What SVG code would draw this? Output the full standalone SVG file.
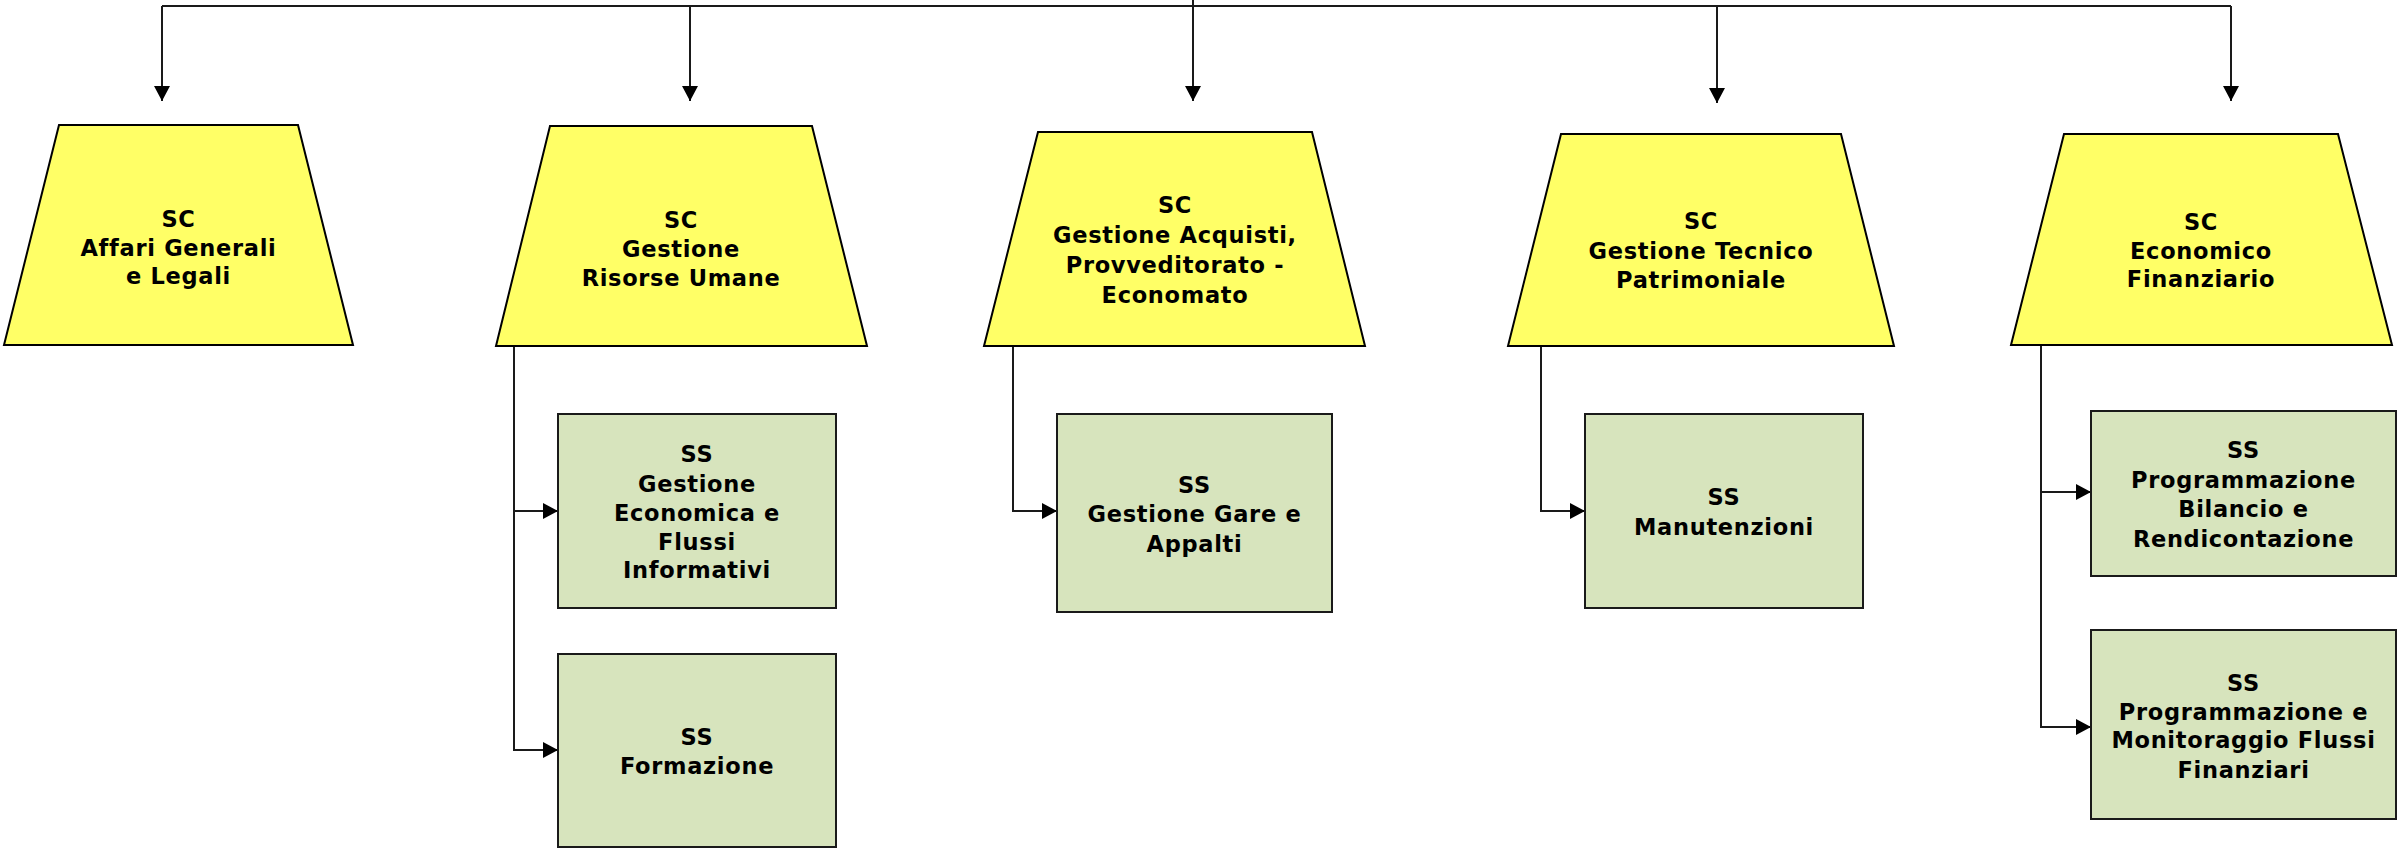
<svg xmlns="http://www.w3.org/2000/svg" width="2399" height="851" viewBox="0 0 2399 851">
<style>
.sc{fill:#FFFF66;stroke:#000;stroke-width:2}
.ss{fill:#D7E4BD;stroke:#1a1a1a;stroke-width:2}
.c{fill:none;stroke:#1a1a1a;stroke-width:2}
text{font-family:"DejaVu Sans","Verdana",sans-serif;font-weight:bold;font-size:22.5px;letter-spacing:0.7px;fill:#000;text-anchor:middle}
</style>
<defs>
<marker id="ad" markerUnits="userSpaceOnUse" markerWidth="16" markerHeight="16" viewBox="0 0 16 16" refX="15" refY="8" orient="auto">
<path d="M0,0 L15,8 L0,16 Z" fill="#000"/>
</marker>
</defs>
<g id="connectors">
<path class="c" d="M1193,0 V6"/>
<path class="c" d="M162,6 H2231"/>
<path class="c" d="M162,6 V101" marker-end="url(#ad)"/>
<path class="c" d="M690,6 V101" marker-end="url(#ad)"/>
<path class="c" d="M1193,6 V101" marker-end="url(#ad)"/>
<path class="c" d="M1717,6 V103" marker-end="url(#ad)"/>
<path class="c" d="M2231,6 V101" marker-end="url(#ad)"/>
<path class="c" d="M514,346 V750 H558" marker-end="url(#ad)"/>
<path class="c" d="M514,511 H558" marker-end="url(#ad)"/>
<path class="c" d="M1013,346 V511 H1057" marker-end="url(#ad)"/>
<path class="c" d="M1541,346 V511 H1585" marker-end="url(#ad)"/>
<path class="c" d="M2041,345 V727 H2091" marker-end="url(#ad)"/>
<path class="c" d="M2041,492 H2091" marker-end="url(#ad)"/>
</g>
<g id="sc-affari">
<polygon class="sc" points="59,125 298,125 353,345 4,345"/>
<text x="178.5" y="227">SC</text>
<text x="178.5" y="255.5">Affari Generali</text>
<text x="178.5" y="284">e Legali</text>
</g>
<g id="sc-risorse">
<polygon class="sc" points="550,126 812,126 867,346 496,346"/>
<text x="681" y="228">SC</text>
<text x="681" y="257">Gestione</text>
<text x="681" y="286">Risorse Umane</text>
</g>
<g id="sc-acquisti">
<polygon class="sc" points="1038,132 1312,132 1365,346 984,346"/>
<text x="1175" y="213">SC</text>
<text x="1175" y="243">Gestione Acquisti,</text>
<text x="1175" y="273">Provveditorato -</text>
<text x="1175" y="303">Economato</text>
</g>
<g id="sc-tecnico">
<polygon class="sc" points="1561,134 1841,134 1894,346 1508,346"/>
<text x="1701" y="229">SC</text>
<text x="1701" y="259">Gestione Tecnico</text>
<text x="1701" y="288">Patrimoniale</text>
</g>
<g id="sc-economico">
<polygon class="sc" points="2064,134 2338,134 2392,345 2011,345"/>
<text x="2201" y="230">SC</text>
<text x="2201" y="259">Economico</text>
<text x="2201" y="287">Finanziario</text>
</g>
<g id="ss-economica">
<rect class="ss" x="558" y="414" width="278" height="194"/>
<text x="697" y="462">SS</text>
<text x="697" y="492">Gestione</text>
<text x="697" y="521">Economica e</text>
<text x="697" y="550">Flussi</text>
<text x="697" y="578">Informativi</text>
</g>
<g id="ss-formazione">
<rect class="ss" x="558" y="654" width="278" height="193"/>
<text x="697" y="745">SS</text>
<text x="697" y="774">Formazione</text>
</g>
<g id="ss-gare">
<rect class="ss" x="1057" y="414" width="275" height="198"/>
<text x="1194.5" y="493">SS</text>
<text x="1194.5" y="522">Gestione Gare e</text>
<text x="1194.5" y="552">Appalti</text>
</g>
<g id="ss-manutenzioni">
<rect class="ss" x="1585" y="414" width="278" height="194"/>
<text x="1724" y="505">SS</text>
<text x="1724" y="535">Manutenzioni</text>
</g>
<g id="ss-bilancio">
<rect class="ss" x="2091" y="411" width="305" height="165"/>
<text x="2243.5" y="458">SS</text>
<text x="2243.5" y="488">Programmazione</text>
<text x="2243.5" y="517">Bilancio e</text>
<text x="2243.5" y="547">Rendicontazione</text>
</g>
<g id="ss-flussi">
<rect class="ss" x="2091" y="630" width="305" height="189"/>
<text x="2243.5" y="691">SS</text>
<text x="2243.5" y="720">Programmazione e</text>
<text x="2243.5" y="748">Monitoraggio Flussi</text>
<text x="2243.5" y="778">Finanziari</text>
</g>
</svg>
